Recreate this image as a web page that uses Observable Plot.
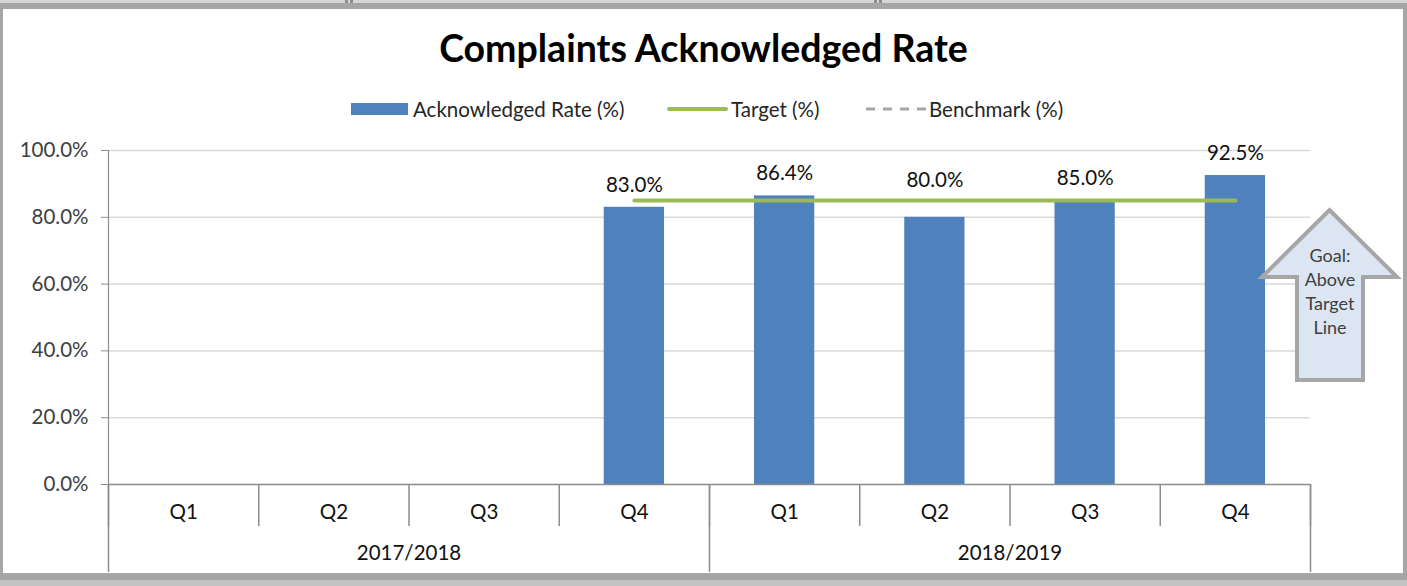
<!DOCTYPE html>
<html>
<head>
<meta charset="utf-8">
<script src="https://cdn.jsdelivr.net/npm/d3@7"></script>
<script src="https://cdn.jsdelivr.net/npm/@observablehq/plot@0.6"></script>
<style>
  html, body { margin: 0; padding: 0; background: #fff; }
  body { width: 1407px; height: 586px; position: relative; overflow: hidden; font-family: Lato, "Open Sans", sans-serif; }
  .abs { position: absolute; }
  #title { left: 0; width: 1407px; top: 22px; text-align: center; font-weight: bold; font-size: 37.5px; color: #000; line-height: 52px; }
  #legend { top: 97px; left: 0; width: 1407px; height: 24px; }
  .lg { position: absolute; top: 0; font-size: 20.5px; color: #262626; line-height: 24px; white-space: nowrap; }
  #chart { left: 0; top: 130px; }
  #arrow { left: 0; top: 0; pointer-events: none; }
</style>
</head>
<body>
<!-- frame -->
<div class="abs" style="left:0;top:0;width:1407px;height:3px;background:#d6d6d6"></div>
<div class="abs" style="left:345px;top:0;width:3px;height:4px;background:#8c8c8c"></div>
<div class="abs" style="left:350px;top:0;width:3px;height:4px;background:#8c8c8c"></div>
<div class="abs" style="left:874px;top:0;width:3px;height:4px;background:#8c8c8c"></div>
<div class="abs" style="left:879px;top:0;width:3px;height:4px;background:#8c8c8c"></div>
<div class="abs" style="left:0;top:3px;width:1407px;height:6px;background:#a6a6a6"></div>
<div class="abs" style="left:0;top:3px;width:3px;height:577px;background:#a6a6a6"></div>
<div class="abs" style="left:1403px;top:3px;width:4px;height:577px;background:#a6a6a6"></div>
<div class="abs" style="left:0;top:573px;width:1407px;height:7px;background:#a6a6a6"></div>
<div class="abs" style="left:0;top:580px;width:1407px;height:6px;background:#c3c3c3"></div>

<div id="title" class="abs">Complaints Acknowledged Rate</div>
<div id="legend" class="abs">
  <div class="abs" style="left:351px;top:6px;width:57px;height:12px;background:#4f81bd"></div>
  <div class="lg" style="left:413px">Acknowledged Rate (%)</div>
  <div class="abs" style="left:667px;top:10px;width:61px;height:4px;border-radius:2px;background:#9bbb59"></div>
  <div class="lg" style="left:731px">Target (%)</div>
  <svg class="abs" style="left:865px;top:8px" width="62" height="8"><line x1="1" y1="4" x2="61" y2="4" stroke="#a6a6a6" stroke-width="3" stroke-dasharray="9,8"/></svg>
  <div class="lg" style="left:929px">Benchmark (%)</div>
</div>
<div id="chart" class="abs"></div>
<svg id="arrow" class="abs" width="1407" height="586">
  <polygon points="1329.5,210 1397,277 1363,277 1363,380 1297,380 1297,277 1262,277" fill="#dce6f2" stroke="#a6a6a6" stroke-width="4" stroke-linejoin="miter"/>
  <g font-family="Lato, 'Open Sans', sans-serif" font-size="18" fill="#404040" text-anchor="middle">
    <text x="1330" y="262">Goal:</text>
    <text x="1330" y="286">Above</text>
    <text x="1330" y="310">Target</text>
    <text x="1330" y="334">Line</text>
  </g>
</svg>

<script>
// ---- data ----
const years     = ["2017/2018","2017/2018","2017/2018","2017/2018","2018/2019","2018/2019","2018/2019","2018/2019"];
const quarters  = ["Q1","Q2","Q3","Q4","Q1","Q2","Q3","Q4"];
const rates     = [null, null, null, 83.0, 86.4, 80.0, 85.0, 92.5];
const target    = [null, null, null, 85, 85, 85, 85, 85];
const benchmark = [null, null, null, null, null, null, null, null];
const yTicks    = [0, 20, 40, 60, 80, 100];

const rows = quarters.map((q, i) => ({i, year: years[i], quarter: q, rate: rates[i], target: target[i], benchmark: benchmark[i]}));
const yearGroups = Array.from(d3.group(rows, d => d.year), ([year, rs]) => ({year, c: d3.mean(rs, r => r.i + 0.5), start: d3.min(rs, r => r.i), end: d3.max(rs, r => r.i) + 1}));
const qEdges = d3.range(rows.length + 1);
const yEdges = Array.from(new Set(yearGroups.flatMap(g => [g.start, g.end])));

const W = 1407, H = 448, mT = 20, mB = 94, mL = 108, mR = 97;
const plotH = H - mT - mB;
const fmt = d => d.toFixed(1) + "%";
// data labels: like Excel, a label that would sit on the target line is lifted above it
const labelY = d => (d.target != null && d.rate < d.target - 3) ? d.target - 0.5 : d.rate;
const FONT = "Lato, 'Open Sans', sans-serif";

const chart = Plot.plot({
  width: W, height: H,
  marginTop: mT, marginBottom: mB, marginLeft: mL, marginRight: mR,
  style: {fontFamily: FONT, background: "transparent", overflow: "visible"},
  x: {type: "linear", domain: [0, rows.length], axis: null},
  y: {domain: [0, 100], axis: null},
  marks: [
    Plot.gridY(yTicks.filter(t => t > 0), {stroke: "#d9d9d9", strokeOpacity: 1, strokeWidth: 1.5}),
    Plot.rectY(rows.filter(d => d.rate != null), {x1: d => d.i, x2: d => d.i + 1, y: "rate", fill: "#4f81bd", insetLeft: 45, insetRight: 45}),
    Plot.line(rows.filter(d => d.target != null), {x: d => d.i + 0.5, y: "target", stroke: "#9bbb59", strokeWidth: 4, strokeLinecap: "round"}),
    Plot.line(rows.filter(d => d.benchmark != null), {x: d => d.i + 0.5, y: "benchmark", stroke: "#a6a6a6", strokeWidth: 3, strokeDasharray: "9,8"}),
    Plot.text(rows.filter(d => d.rate != null), {x: d => d.i + 0.5, y: labelY, text: d => fmt(d.rate), dy: -22, fontSize: 20.5, fill: "#111"}),
    // y axis
    Plot.axisY({ticks: yTicks, tickFormat: fmt, tickSize: 7, tickPadding: 13, fontSize: 20.5, color: "#404040", stroke: "#8c8c8c"}),
    Plot.ruleX([0], {stroke: "#8c8c8c", strokeWidth: 1.2}),
    Plot.ruleY([0], {stroke: "#8c8c8c", strokeWidth: 1.5}),
    // category separators
    Plot.ruleX(qEdges, {x: d => d, stroke: "#8c8c8c", strokeWidth: 1.5, insetTop: plotH, insetBottom: -42}),
    Plot.ruleX(yEdges, {x: d => d, stroke: "#8c8c8c", strokeWidth: 1.5, insetTop: plotH, insetBottom: -88}),
    Plot.text(rows, {x: d => d.i + 0.5, text: "quarter", frameAnchor: "bottom", lineAnchor: "middle", dy: 28, fontSize: 20.5, fill: "#111"}),
    Plot.text(yearGroups, {x: "c", text: "year", frameAnchor: "bottom", lineAnchor: "middle", dy: 69, fontSize: 20.5, fill: "#111"})
  ]
});
document.getElementById("chart").appendChild(chart);
</script>
</body>
</html>
